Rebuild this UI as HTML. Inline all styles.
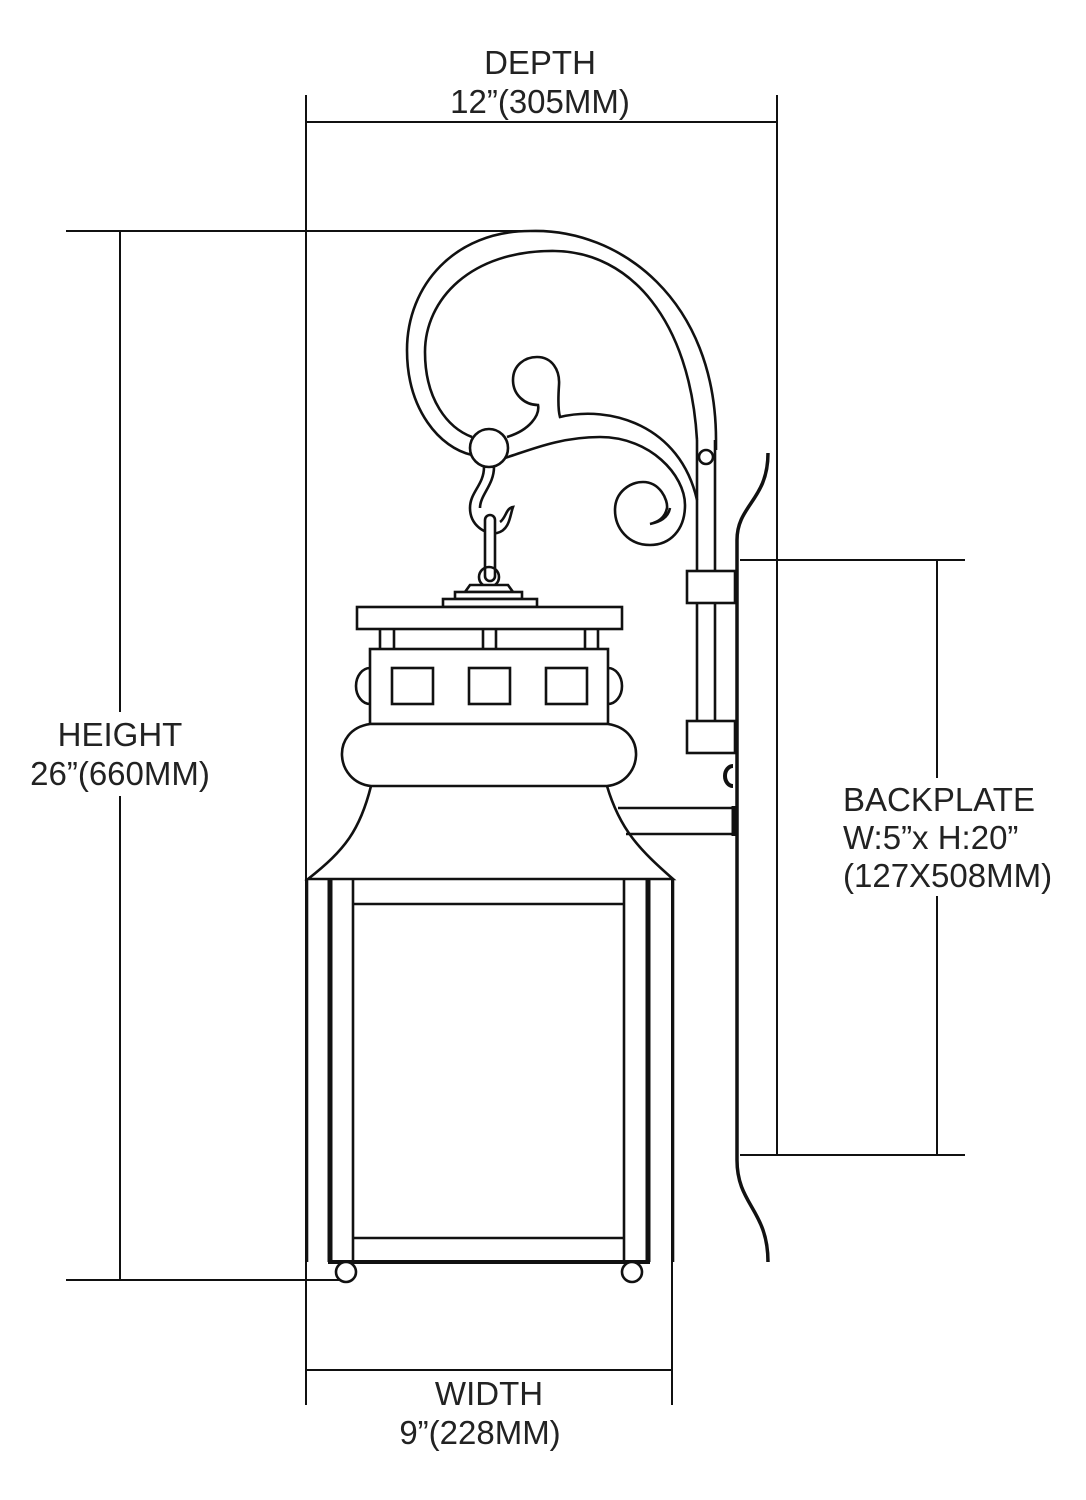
<!DOCTYPE html>
<html><head><meta charset="utf-8"><style>
html,body{margin:0;padding:0;background:#fff;}
svg{display:block;}
text{font-family:"Liberation Sans",sans-serif;font-size:33px;fill:#222;}
</style></head><body>
<svg width="1086" height="1500" viewBox="0 0 1086 1500" xmlns="http://www.w3.org/2000/svg">
<g fill="none" stroke="#111" stroke-width="2">
<line x1="306" y1="95" x2="306" y2="1405"/>
<line x1="777" y1="95" x2="777" y2="1155"/>
<line x1="306" y1="122" x2="777" y2="122"/>
<line x1="66" y1="231" x2="530" y2="231"/>
<line x1="66" y1="1280" x2="346" y2="1280"/>
<line x1="120" y1="231" x2="120" y2="1280"/>
<line x1="740" y1="560" x2="965" y2="560"/>
<line x1="740" y1="1155" x2="965" y2="1155"/>
<line x1="937" y1="560" x2="937" y2="1155"/>
<line x1="672" y1="880" x2="672" y2="1405"/>
<line x1="306" y1="1370" x2="672" y2="1370"/>
</g>
<g fill="none" stroke="#111" stroke-width="2.6">
<path d="M768,453 C768,500 737,505 737,540 L737,1160 C737,1205 768,1210 768,1262" stroke-width="3.5"/>
<line x1="697" y1="440" x2="697" y2="722"/>
<line x1="715" y1="440" x2="715" y2="722"/>
<rect x="687" y="571" width="48" height="32" fill="#fff"/>
<rect x="687" y="721" width="48" height="32" fill="#fff"/>
<circle cx="706" cy="457" r="7" fill="#fff"/>
<path d="M733,766 a8,10 0 1,0 0,20" stroke-width="4"/>
<path d="M618,808 L733,808 M626,834 L733,834"/>
<line x1="734" y1="806" x2="734" y2="836" stroke-width="5"/>
<path d="M530,231 C620,228 716,300 716,440 L716,450"/>
<path d="M530,231 C455,231 407,285 407,350 C407,410 440,448 472,455"/>
<path d="M697,440 C690,320 630,252 555,251 C470,250 425,300 425,352 C425,400 448,428 472,437"/>
<path d="M507,437 C530,430 540,415 538,405 C525,405 513,395 513,380 C513,365 525,357 537,357 C552,357 560,370 559,385 C558,400 558,410 560,417 C610,405 680,425 697,500"/>
<path d="M505,458 C530,450 560,437 600,437 C650,437 685,475 685,505 C685,530 670,545 650,545 C628,545 615,528 615,510 C615,492 630,482 643,482 C660,482 668,500 667,508 C665,518 658,522 650,524 C660,522 668,518 670,508"/>
<circle cx="489" cy="448" r="19" fill="#fff"/>
<path d="M484,467 C484,485 470,492 470,508 C470,525 485,535 497,533 C510,530 510,515 513,507 C506,508 506,518 500,522"/>
<path d="M494,467 C494,485 480,495 480,508"/>
<rect x="485" y="515" width="10" height="66" rx="5" fill="#fff"/>
<circle cx="489" cy="577" r="10"/>
<path d="M465,592 L470,585 L508,585 L513,592 Z" fill="#fff"/>
<rect x="455" y="592" width="67" height="7" fill="#fff"/>
<rect x="443" y="599" width="94" height="8" fill="#fff"/>
<rect x="357" y="607" width="265" height="22" fill="#fff"/>
<path d="M380,629 v20 M394,629 v20 M483,629 v20 M496,629 v20 M585,629 v20 M598,629 v20"/>
<rect x="370" y="649" width="238" height="75" fill="#fff"/>
<rect x="392" y="668" width="41" height="36"/>
<rect x="469" y="668" width="41" height="36"/>
<rect x="546" y="668" width="41" height="36"/>
<path d="M370,668 a14,18 0 0,0 0,36 M608,668 a14,18 0 0,1 0,36"/>
<path d="M370,724 C330,730 335,782 371,786 L607,786 C643,782 648,730 608,724 Z" fill="#fff"/>
<path d="M371,786 C360,830 345,850 308,879 L673,879 C640,850 620,830 607,786"/>
<line x1="307" y1="879" x2="307" y2="1262"/>
<line x1="673" y1="879" x2="673" y2="1262"/>
<line x1="330" y1="879" x2="330" y2="1262" stroke-width="5"/>
<line x1="648" y1="879" x2="648" y2="1262" stroke-width="5"/>
<line x1="353" y1="879" x2="353" y2="1262"/>
<line x1="624" y1="879" x2="624" y2="1262"/>
<line x1="353" y1="904" x2="624" y2="904"/>
<line x1="353" y1="1238" x2="624" y2="1238"/>
<line x1="328" y1="1262" x2="650" y2="1262" stroke-width="4"/>
<circle cx="346" cy="1272" r="10" fill="#fff"/>
<circle cx="632" cy="1272" r="10" fill="#fff"/>
</g>
<rect x="48" y="712" width="172" height="84" fill="#fff"/>
<rect x="838" y="778" width="222" height="118" fill="#fff"/>
<text x="540" y="74" text-anchor="middle">DEPTH</text>
<text x="540" y="113" text-anchor="middle">12”(305MM)</text>
<text x="120" y="746" text-anchor="middle">HEIGHT</text>
<text x="120" y="785" text-anchor="middle">26”(660MM)</text>
<text x="843" y="811">BACKPLATE</text>
<text x="843" y="849">W:5”x H:20”</text>
<text x="843" y="887">(127X508MM)</text>
<text x="489" y="1405" text-anchor="middle">WIDTH</text>
<text x="480" y="1444" text-anchor="middle">9”(228MM)</text>
</svg>
</body></html>
